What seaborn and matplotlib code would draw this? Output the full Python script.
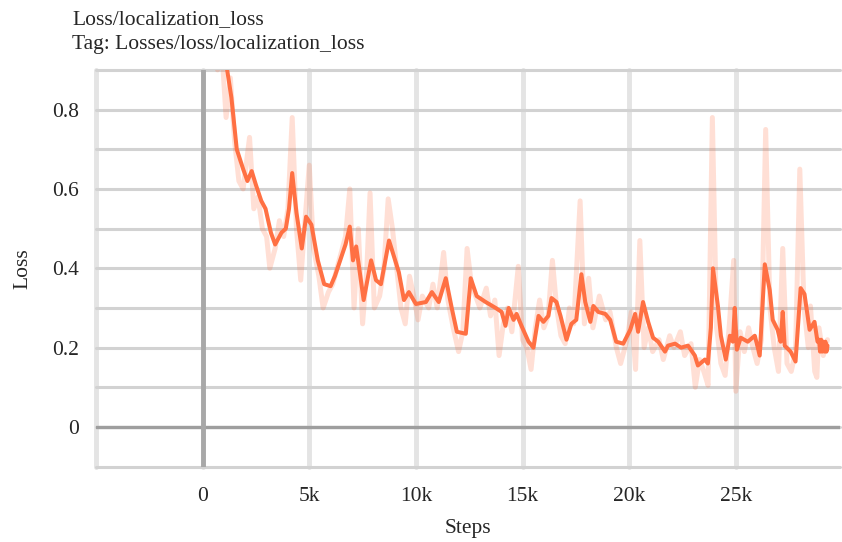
import numpy as np
import pandas as pd
import matplotlib
matplotlib.use('Agg')
import matplotlib.pyplot as plt
import seaborn as sns

# smoothed curve (bold orange)
smooth_steps = [500, 1150, 1350, 1600, 1900, 2100, 2300, 2500, 2750, 2950, 3200, 3400, 3700, 3900,
                4050, 4200, 4400, 4650, 4850, 5100, 5400, 5700, 6000, 6200, 6450, 6700, 6900, 7050,
                7200, 7550, 7900, 8130, 8360, 8740, 9200, 9440, 9670, 10000, 10470, 10750, 11070,
                11400, 11680, 11920, 12340, 12570, 12850, 13270, 13740, 14020, 14200, 14350, 14580,
                14720, 14950, 15280, 15510, 15750, 15980, 16210, 16360, 16590, 16780, 17060, 17290,
                17520, 17760, 17940, 18180, 18320, 18550, 18880, 19110, 19390, 19720, 20050, 20280,
                20420, 20650, 20890, 21120, 21360, 21680, 21820, 22150, 22430, 22760, 23080, 23220,
                23550, 23690, 23830, 23930, 24160, 24300, 24530, 24720, 24860, 24950, 25050, 25230,
                25560, 25890, 26120, 26360, 26590, 26730, 26960, 27100, 27200, 27290, 27570, 27800,
                28040, 28220, 28460, 28690, 28830, 28900, 28950, 29000, 29050, 29100, 29160, 29200,
                29250, 29300]
smooth_loss = [1.25, 0.90, 0.83, 0.70, 0.65, 0.62, 0.645, 0.61, 0.57, 0.55, 0.49, 0.46, 0.49, 0.50,
               0.55, 0.64, 0.54, 0.45, 0.53, 0.51, 0.42, 0.36, 0.355, 0.38, 0.42, 0.46, 0.505, 0.42,
               0.455, 0.32, 0.42, 0.37, 0.36, 0.47, 0.39, 0.32, 0.34, 0.31, 0.315, 0.34, 0.315,
               0.375, 0.30, 0.24, 0.235, 0.375, 0.33, 0.315, 0.30, 0.29, 0.255, 0.30, 0.27,
               0.285, 0.255, 0.215, 0.20, 0.28, 0.265, 0.28, 0.325, 0.315, 0.28, 0.22, 0.26,
               0.27, 0.385, 0.315, 0.265, 0.305, 0.29, 0.285, 0.27, 0.215, 0.21, 0.245, 0.285,
               0.24, 0.315, 0.265, 0.225, 0.215, 0.19, 0.205, 0.21, 0.20, 0.205, 0.18, 0.155,
               0.17, 0.16, 0.25, 0.40, 0.305, 0.23, 0.17, 0.23, 0.215, 0.30, 0.195, 0.225,
               0.215, 0.23, 0.18, 0.41, 0.345, 0.27, 0.245, 0.215, 0.29, 0.205, 0.19, 0.165,
               0.35, 0.335, 0.245, 0.265, 0.215, 0.22, 0.19, 0.22, 0.19, 0.215, 0.19, 0.215,
               0.19, 0.205]

# raw values (faint line)
raw_steps = [450, 700, 900, 1100, 1300, 1500, 1700, 1900, 2200, 2400, 2600, 2800, 3000, 3150,
             3400, 3600, 3800, 4000, 4200, 4400, 4600, 4800, 5000, 5200, 5450, 5650, 5900, 6100,
             6300, 6500, 6700, 6900, 7100, 7300, 7500, 7700, 7850, 8050, 8300, 8500, 8700, 8900,
             9100, 9300, 9500, 9700, 9900, 10100, 10300, 10600, 10800, 11000, 11300, 11500, 11750,
             12000, 12200, 12400, 12600, 12800, 13000, 13300, 13500, 13700, 13900, 14100, 14300,
             14500, 14800, 15000, 15200, 15400, 15600, 15800, 16000, 16200, 16400, 16600, 16800,
             17000, 17200, 17400, 17700, 17900, 18100, 18300, 18600, 18900, 19100, 19400, 19600,
             19900, 20100, 20300, 20500, 20700, 20900, 21100, 21400, 21600, 21900, 22100, 22400,
             22600, 22900, 23100, 23300, 23500, 23700, 23900, 24100, 24300, 24500, 24700, 24900,
             25000, 25200, 25400, 25600, 25800, 26000, 26200, 26400, 26600, 26800, 27000, 27200,
             27400, 27600, 27800, 28000, 28200, 28400, 28500, 28700, 28800, 28900, 29100, 29300]
raw_loss = [1.05, 0.90, 0.95, 0.78, 0.88, 0.72, 0.62, 0.60, 0.73, 0.55, 0.58, 0.50, 0.48, 0.40,
            0.45, 0.52, 0.48, 0.55, 0.78, 0.50, 0.37, 0.52, 0.66, 0.45, 0.38, 0.30, 0.34, 0.36,
            0.40, 0.44, 0.48, 0.60, 0.30, 0.50, 0.26, 0.40, 0.59, 0.30, 0.33, 0.40, 0.575, 0.50,
            0.40, 0.30, 0.26, 0.38, 0.33, 0.27, 0.33, 0.30, 0.36, 0.30, 0.44, 0.32, 0.25,
            0.19, 0.24, 0.45, 0.36, 0.33, 0.30, 0.35, 0.28, 0.32, 0.18, 0.26, 0.30,
            0.24, 0.405, 0.22, 0.20, 0.145, 0.25, 0.32, 0.25, 0.28, 0.42, 0.30, 0.23,
            0.21, 0.30, 0.26, 0.57, 0.26, 0.375, 0.25, 0.33, 0.27, 0.29, 0.20, 0.16,
            0.22, 0.29, 0.145, 0.47, 0.20, 0.25, 0.19, 0.22, 0.17, 0.23, 0.20, 0.24,
            0.18, 0.21, 0.10, 0.17, 0.14, 0.105, 0.78, 0.25, 0.16, 0.13, 0.26, 0.42,
            0.09, 0.24, 0.19, 0.25, 0.20, 0.16, 0.22, 0.75, 0.30, 0.20, 0.14, 0.45,
            0.16, 0.14, 0.19, 0.65, 0.30, 0.20, 0.305, 0.14, 0.125, 0.25, 0.18, 0.22]

x_ticks = [-5000, 0, 5000, 10000, 15000, 20000, 25000]
x_tick_labels = ['', '0', '5k', '10k', '15k', '20k', '25k']
y_ticks = [-0.1, 0.0, 0.1, 0.2, 0.3, 0.4, 0.5, 0.6, 0.7, 0.8, 0.9]
y_tick_labels = ['', '0', '', '0.2', '', '0.4', '', '0.6', '', '0.8', '']

raw_df = pd.DataFrame({'Steps': raw_steps, 'Loss': raw_loss})
smooth_df = pd.DataFrame({'Steps': smooth_steps, 'Loss': smooth_loss})

sns.set_style('white')
plt.rcParams['font.family'] = ['Liberation Serif', 'DejaVu Serif']
fs = 15.5

fig = plt.figure(figsize=(8.42, 5.42), dpi=100)
ax = fig.add_axes([0.114, 0.139, 0.884, 0.732])

color = '#ff7043'
sns.lineplot(data=raw_df, x='Steps', y='Loss', ax=ax, color=color, alpha=0.22,
             linewidth=3.6, estimator=None, zorder=3)
sns.lineplot(data=smooth_df, x='Steps', y='Loss', ax=ax, color=color,
             linewidth=2.9, estimator=None, zorder=4)

ax.set_xlim(-5000, 29900)
ax.set_ylim(-0.1, 0.9)
ax.set_xticks(x_ticks)
ax.set_xticklabels(x_tick_labels)
ax.set_yticks(y_ticks)
ax.set_yticklabels(y_tick_labels)

for s in ax.spines.values():
    s.set_visible(False)

ax.grid(True, axis='y', color='#d2d2d2', linewidth=2.2, zorder=1)
ax.grid(True, axis='x', color='#e4e4e4', linewidth=3.5, zorder=1)
for gl in ax.get_xgridlines() + ax.get_ygridlines():
    gl.set_clip_on(False)
ax.set_axisbelow(True)

ax.axhline(0, color='#9e9e9e', linewidth=2.4, zorder=2)
ax.axvline(0, color='#a8a8a8', linewidth=3.5, zorder=2)

ax.tick_params(axis='y', length=9, width=2.2, color='#d2d2d2', pad=3, labelsize=fs)
ax.tick_params(axis='x', length=8, width=3.5, color='#e4e4e4', pad=7, labelsize=fs)

ax.set_xlabel('Steps', fontsize=fs, labelpad=9)
ax.set_ylabel('Loss', fontsize=fs, labelpad=14)

fig.text(0.086, 0.963, 'Loss/localization_loss', fontsize=fs, ha='left', va='center')
fig.text(0.086, 0.918, 'Tag: Losses/loss/localization_loss', fontsize=fs, ha='left', va='center')

fig.savefig('out.png', dpi=100)
